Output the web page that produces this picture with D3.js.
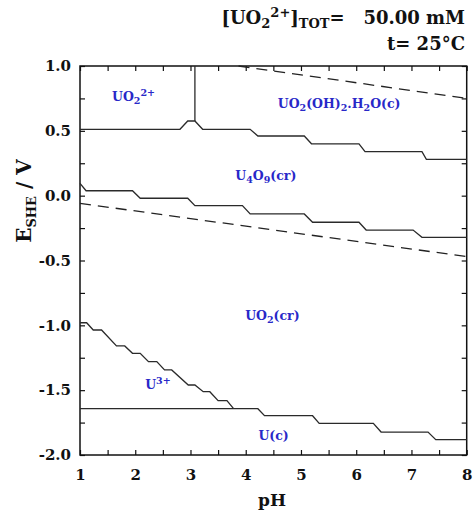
<!DOCTYPE html>
<html>
<head>
<meta charset="utf-8">
<script src="https://cdn.jsdelivr.net/npm/d3@7/dist/d3.min.js"></script>
<style>
  body { margin: 0; background: #fff; }
  text { font-family: "DejaVu Serif", serif; }
</style>
</head>
<body>
<div id="chart"></div>
<script>
var w = 474,
  h = 513;

// tick values
var xTicks = [1, 2, 3, 4, 5, 6, 7, 8];
var xMinor = d3.range(1, 8.01, 0.5);
var yTicks = [1.0, 0.5, 0.0, -0.5, -1.0, -1.5, -2.0];
var yMinor = d3.range(-2, 1.01, 0.25);

// boundaries [pH, E]
var uo2ohLine = [[1.00, 0.512], [2.81, 0.512], [2.95, 0.576], [3.08, 0.576], [3.22, 0.512], [4.08, 0.512],
  [4.22, 0.46], [5.06, 0.46], [5.19, 0.40], [6.05, 0.40], [6.16, 0.339], [7.19, 0.339], [7.27, 0.28], [8.00, 0.28]];
var uo2VertLine = [[3.08, 1.0], [3.08, 0.576]];
var u4o9Line = [[1.00, 0.095], [1.11, 0.038], [1.95, 0.038], [2.09, -0.02], [2.95, -0.02], [3.08, -0.077],
  [3.94, -0.077], [4.08, -0.141], [5.06, -0.141], [5.21, -0.205], [6.05, -0.205], [6.18, -0.265],
  [7.03, -0.265], [7.19, -0.321], [8.00, -0.321]];
var u3Line = [[1.00, -0.980], [1.12, -0.980], [1.24, -1.036], [1.39, -1.036], [1.66, -1.159], [1.81, -1.159],
  [1.95, -1.216], [2.09, -1.216], [2.24, -1.280], [2.39, -1.280], [2.53, -1.344], [2.66, -1.344],
  [2.96, -1.460], [3.08, -1.460], [3.23, -1.512], [3.35, -1.512], [3.50, -1.581], [3.66, -1.581], [3.78, -1.643]];
var ucLine = [[1.00, -1.643], [4.22, -1.643], [4.34, -1.697], [5.21, -1.697], [5.33, -1.756], [6.31, -1.756],
  [6.45, -1.823], [7.30, -1.823], [7.44, -1.882], [8.00, -1.882]];
var o2Line = [[3.87, 1.0], [8.00, 0.75]];
var h2Line = [[1.00, -0.059], [8.00, -0.47]];

// species labels: pH, E of text start, and pieces (0 normal, 1 subscript, -1 superscript)
var labels = [
  { x: 1.58, y: 0.732, parts: [['UO', 0], ['2', 1], ['2+', -1]] },
  { x: 4.58, y: 0.674, parts: [['UO', 0], ['2', 1], ['(OH)', 0], ['2', 1], ['.H', 0], ['2', 1], ['O(c)', 0]] },
  { x: 3.81, y: 0.121, parts: [['U', 0], ['4', 1], ['O', 0], ['9', 1], ['(cr)', 0]] },
  { x: 3.99, y: -0.959, parts: [['UO', 0], ['2', 1], ['(cr)', 0]] },
  { x: 2.18, y: -1.49, parts: [['U', 0], ['3+', -1]] },
  { x: 4.23, y: -1.884, parts: [['U(c)', 0]] }
];

var padL = 80, padR = 466.7, padT = 66, padB = 455;

var svg = d3.select('#chart').append('svg')
  .attr('width', w)
  .attr('height', h);

var x = d3.scaleLinear().domain([1, 8]).range([padL, padR]);
var y = d3.scaleLinear().domain([-2, 1]).range([padB, padT]);

var fmt = function(d) { return d.toFixed(1); };

// minor ticks on all sides
svg.append('g').attr('transform', 'translate(0,' + padB + ')')
  .call(d3.axisBottom(x).tickValues(xMinor).tickSizeInner(-5).tickSizeOuter(0).tickFormat(''));
svg.append('g').attr('transform', 'translate(0,' + padT + ')')
  .call(d3.axisTop(x).tickValues(xMinor).tickSizeInner(-5).tickSizeOuter(0).tickFormat(''));
svg.append('g').attr('transform', 'translate(' + padL + ',0)')
  .call(d3.axisLeft(y).tickValues(yMinor).tickSizeInner(-5).tickSizeOuter(0).tickFormat(''));
svg.append('g').attr('transform', 'translate(' + padR + ',0)')
  .call(d3.axisRight(y).tickValues(yMinor).tickSizeInner(-5).tickSizeOuter(0).tickFormat(''));

// labelled axes
var xAxis = svg.append('g').attr('class', 'x-axis').attr('transform', 'translate(0,' + padB + ')')
  .call(d3.axisBottom(x).tickValues(xTicks).tickSize(0).tickPadding(14).tickFormat(d3.format('d')));
var yAxis = svg.append('g').attr('class', 'y-axis').attr('transform', 'translate(' + padL + ',0)')
  .call(d3.axisLeft(y).tickValues(yTicks).tickSize(0).tickPadding(9).tickFormat(fmt));

svg.selectAll('.tick line').attr('stroke', '#111').attr('stroke-width', 1.2);
svg.selectAll('.domain').remove();
svg.selectAll('.x-axis text, .y-axis text')
  .attr('font-family', 'DejaVu Serif')
  .attr('font-size', 15)
  .attr('font-weight', 'bold')
  .attr('fill', '#111');

// frame
svg.append('rect')
  .attr('x', padL).attr('y', padT)
  .attr('width', padR - padL).attr('height', padB - padT)
  .attr('fill', 'none').attr('stroke', '#111').attr('stroke-width', 1.5);

var line = d3.line()
  .x(function(d) { return x(d[0]); })
  .y(function(d) { return y(d[1]); });

[uo2ohLine, uo2VertLine, u4o9Line, u3Line, ucLine].forEach(function(d) {
  svg.append('path').datum(d)
    .attr('d', line)
    .attr('fill', 'none')
    .attr('stroke', '#2a2a2a')
    .attr('stroke-width', 1.3);
});

[o2Line, h2Line].forEach(function(d) {
  svg.append('path').datum(d)
    .attr('d', line)
    .attr('fill', 'none')
    .attr('stroke', '#222')
    .attr('stroke-width', 1.3)
    .attr('stroke-dasharray', '11,7');
});

// species labels
labels.forEach(function(l) {
  var t = svg.append('text')
    .attr('x', x(l.x)).attr('y', y(l.y))
    .attr('font-family', 'DejaVu Serif')
    .attr('font-weight', 'bold')
    .attr('font-size', 12.5)
    .attr('fill', '#2828c8');
  var shift = 0;
  l.parts.forEach(function(p) {
    var target = p[1] === 1 ? 3 : (p[1] === -1 ? -5 : 0);
    t.append('tspan')
      .attr('dy', target - shift)
      .attr('font-size', p[1] === 0 ? 12.5 : 9.5)
      .text(p[0]);
    shift = target;
  });
});

// axis titles
svg.append('text')
  .attr('x', 272).attr('y', 506)
  .attr('text-anchor', 'middle')
  .attr('font-family', 'DejaVu Serif').attr('font-weight', 'bold').attr('font-size', 17)
  .attr('fill', '#111')
  .text('pH');

var yt = svg.append('text')
  .attr('transform', 'translate(31,201) rotate(-90)')
  .attr('text-anchor', 'middle')
  .attr('font-family', 'DejaVu Serif').attr('font-weight', 'bold').attr('font-size', 20)
  .attr('fill', '#111');
yt.append('tspan').text('E');
yt.append('tspan').attr('dy', 5).attr('font-size', 13).text('SHE');
yt.append('tspan').attr('dy', -5).text(' / V');

// header
var hd = svg.append('text')
  .attr('x', 465).attr('y', 24)
  .attr('text-anchor', 'end')
  .attr('font-family', 'Liberation Serif').attr('font-weight', 'bold').attr('font-size', 18)
  .attr('fill', '#111');
hd.append('tspan').text('[UO');
hd.append('tspan').attr('dy', 4).attr('font-size', 13).text('2');
hd.append('tspan').attr('dy', -11).attr('font-size', 13).text('2+');
hd.append('tspan').attr('dy', 7).text(']');
hd.append('tspan').attr('dy', 4).attr('font-size', 13).text('TOT');
hd.append('tspan').attr('dy', -4).attr('xml:space', 'preserve').text('=   50.00 mM');

svg.append('text')
  .attr('x', 465).attr('y', 50)
  .attr('text-anchor', 'end')
  .attr('font-family', 'Liberation Serif').attr('font-weight', 'bold').attr('font-size', 18)
  .attr('fill', '#111')
  .text('t= 25°C');
</script>
</body>
</html>
